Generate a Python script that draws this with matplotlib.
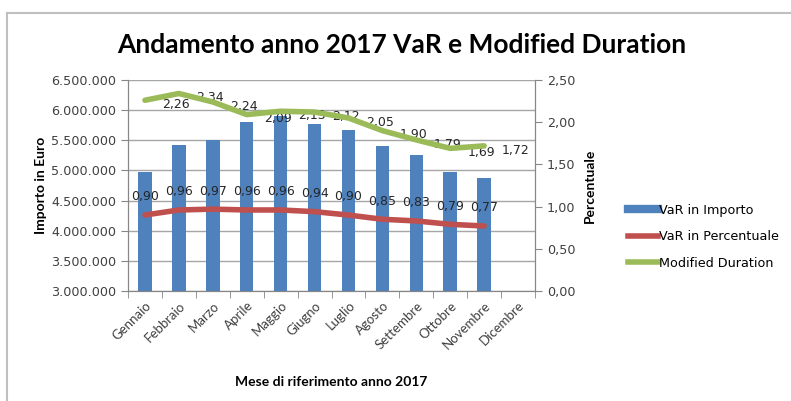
import matplotlib
matplotlib.use("Agg")
import matplotlib.pyplot as plt
from matplotlib.lines import Line2D
import numpy as np

# Data
mesi = ["Gennaio", "Febbraio", "Marzo", "Aprile", "Maggio", "Giugno",
        "Luglio", "Agosto", "Settembre", "Ottobre", "Novembre", "Dicembre"]
var_importo = [4970000, 5420000, 5500000, 5800000, 5900000, 5770000,
               5670000, 5400000, 5250000, 4970000, 4870000]
var_percentuale = [0.90, 0.96, 0.97, 0.96, 0.96, 0.94, 0.90, 0.85, 0.83, 0.79, 0.77]
modified_duration = [2.26, 2.34, 2.24, 2.09, 2.13, 2.12, 2.05, 1.90, 1.79, 1.69, 1.72]

BLUE = "#4F81BD"
RED = "#C0504D"
GREEN = "#9BBB59"
HEAD_FONT = ["Lato", "DejaVu Sans"]


def fmt_euro(v, _pos=None):
    return f"{int(v):,}".replace(",", ".")


fig = plt.figure(figsize=(7.91, 4.01), dpi=100)
ax = fig.add_axes([0.1618, 0.2743, 0.5146, 0.5262])
ax2 = ax.twinx()

x = np.arange(len(mesi))
xv = x[:len(var_importo)]

ax.bar(xv, var_importo, width=0.4, color=BLUE, zorder=3)
ax.set_ylim(3000000, 6500000)
ax.set_yticks(np.arange(3000000, 6500001, 500000))
ax.yaxis.set_major_formatter(plt.FuncFormatter(fmt_euro))
ax.yaxis.grid(True, color="#A6A6A6", linewidth=1, zorder=0)
ax.set_xlim(-0.5, len(mesi) - 0.5)

# categories with ticks on boundaries
ax.set_xticks(x)
ax.set_xticklabels(mesi, rotation=45, ha="right", rotation_mode="anchor",
                   family=HEAD_FONT, fontsize=9.5, color="#404040")
ax.tick_params(axis="x", length=0, pad=6)
ax.set_xticks(np.arange(-0.5, len(mesi)), minor=True)
ax.tick_params(axis="x", which="minor", length=5, color="#868686")
ax.tick_params(axis="y", length=5, color="#868686", labelsize=9.2, labelcolor="#404040")

ax2.plot(x[:len(var_percentuale)], var_percentuale, color=RED, linewidth=4,
         solid_capstyle="round", zorder=4)
ax2.plot(x[:len(modified_duration)], modified_duration, color=GREEN, linewidth=4,
         solid_capstyle="round", zorder=4)
ax2.set_ylim(0, 2.5)
ax2.set_yticks(np.arange(0, 2.51, 0.5))
ax2.yaxis.set_major_formatter(plt.FuncFormatter(lambda v, p: f"{v:.2f}".replace(".", ",")))
ax2.tick_params(axis="y", length=5, color="#868686", labelsize=9.2, labelcolor="#404040")

for i, v in enumerate(var_percentuale):
    ax2.annotate(f"{v:.2f}".replace(".", ","), (i, v), xytext=(0, 13),
                 textcoords="offset points", ha="center", va="center",
                 fontsize=9, color="#262626")
# the duration labels sit one month to the right of their points
for i, v in enumerate(modified_duration):
    ax2.annotate(f"{v:.2f}".replace(".", ","), (i + 1, v), xytext=(-2, -3),
                 textcoords="offset points", ha="center", va="center",
                 fontsize=9, color="#262626")

for a in (ax, ax2):
    a.spines["top"].set_visible(False)
    a.spines["left"].set_color("#868686")
    a.spines["right"].set_color("#868686")
    a.spines["bottom"].set_color("#868686")
ax2.set_zorder(ax.get_zorder() + 1)
ax2.patch.set_visible(False)

ax.set_ylabel("Importo in Euro", family=HEAD_FONT, fontweight="bold", fontsize=10, labelpad=3)
ax2.set_ylabel("Percentuale", family=HEAD_FONT, fontweight="bold", fontsize=10, labelpad=6)
ax.set_xlabel("Mese di riferimento anno 2017", family=HEAD_FONT, fontweight="bold",
              fontsize=10, labelpad=18)

fig.text(0.508, 0.888, "Andamento anno 2017 VaR e Modified Duration", ha="center",
         va="center", family=HEAD_FONT, fontweight="bold", fontsize=19)

handles = [Line2D([], [], color=BLUE, linewidth=6),
           Line2D([], [], color=RED, linewidth=4),
           Line2D([], [], color=GREEN, linewidth=4)]
fig.legend(handles, ["VaR in Importo", "VaR in Percentuale", "Modified Duration"],
           loc="center left", bbox_to_anchor=(0.78, 0.41), frameon=False,
           fontsize=9.2, handlelength=2.3, handletextpad=0.1, labelspacing=1.05)

# outer frame
fig.add_artist(Line2D([7 / 791, 7 / 791], [0, 1 - 13 / 401], transform=fig.transFigure,
                      color="#BFBFBF", linewidth=1.5))
fig.add_artist(Line2D([7 / 791, 1], [1 - 13 / 401, 1 - 13 / 401], transform=fig.transFigure,
                      color="#BFBFBF", linewidth=1.5))

fig.savefig("out.png", dpi=100)
